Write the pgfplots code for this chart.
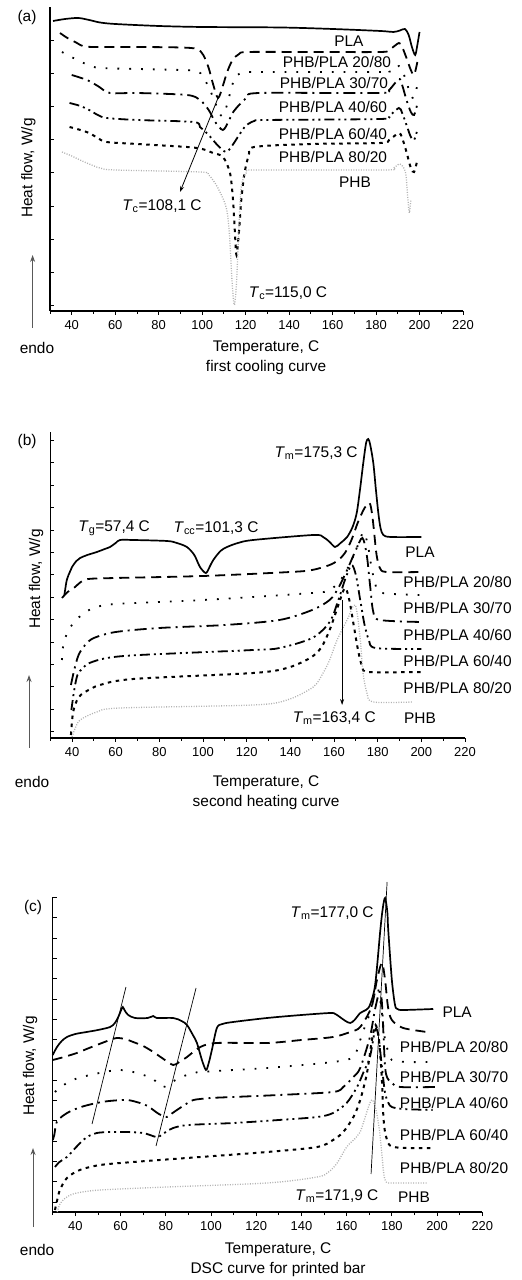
\documentclass[border=0pt]{standalone}
\usepackage{fontspec}
\setmainfont{Liberation Sans}
\usepackage{pgfplots}
\pgfplotsset{compat=1.18}
\usetikzlibrary{arrows.meta}

\newcommand\fs{\fontsize{15.5}{18}\selectfont}
\newcommand\Tsub[1]{\textit{T}\textsubscript{#1}}

\pgfplotsset{
  dscax/.style={
    scale only axis, axis lines*=left, clip=false,
    xmin=30, xmax=220,
    xtick={40,60,...,220}, minor xtick={30,50,...,210},
    xtick align=outside, ytick align=inside,
    major tick length=4bp, minor tick length=3bp,
    yticklabels={},
    axis line style={line width=1.1bp},
    tick style={line width=0.8bp, black},
    xticklabel style={font=\fontsize{13}{15}\selectfont, yshift=-2bp},
    /pgf/number format/assume math mode=true,
    every axis plot/.append style={smooth, tension=0.5},
  },
  pla/.style={black, line width=1.7bp, solid},
  c2080/.style={black, line width=1.8bp, dash pattern=on 10bp off 6bp},
  c3070/.style={black, line width=1.8bp, dash pattern=on 1.8bp off 10bp},
  c4060/.style={black, line width=1.8bp, dash pattern=on 12bp off 5bp on 2bp off 5bp},
  c6040/.style={black, line width=1.8bp, dash pattern=on 10bp off 4bp on 2bp off 4bp on 2bp off 4bp},
  c8020/.style={black, line width=2bp, dash pattern=on 3.5bp off 4.5bp},
  phb/.style={black!30, line width=1.3bp, dash pattern=on 1bp off 1.5bp},
}

\begin{document}
\begin{tikzpicture}[font=\fs]
\useasboundingbox (0,0) rectangle (522bp,1280bp);

% ---------------- (a) first cooling ----------------
\begin{axis}[dscax, at={(50bp,969bp)}, anchor=south west,
  width=413bp, height=304bp, ymin=-311, ymax=-7,
  ytick={-305.7,-272.5,...,-6}]
\addplot[pla] coordinates {(31.4,-21)(37,-19)(43,-18)(48,-20)(53,-22.5)(60,-24)(80,-26)(100,-27)(136,-27.5)(160,-29)(182,-31)(188,-32)(191,-30.5)(193.3,-29)(195,-35)(196.5,-47)(198,-55)(199,-45)(200,-32)};
\addplot[c2080] coordinates {(34.6,-33)(38,-38)(42.4,-43)(45,-46)(50,-47)(70,-47)(90,-47.5)(97.6,-49)(100.5,-55)(103,-68)(105,-84)(107.3,-98)(109.5,-86)(111.5,-72)(114,-60)(117,-54)(121,-52)(150,-52)(182,-52)(186,-50)(190.5,-43)(192,-47)(194,-58)(196,-70)(197.5,-75)(199,-62)};
\addplot[c3070] coordinates {(35.5,-52)(40.7,-58)(47.6,-65)(53,-68)(70,-69)(90,-70)(97.6,-71)(100.5,-77)(104,-92)(107,-108)(109,-116)(111,-108)(113,-92)(115,-78)(118,-73)(125,-72)(182,-72)(186,-71)(190.5,-66)(192,-70)(194,-82)(196,-95)(197.5,-98)(199,-85)};
\addplot[c4060] coordinates {(40,-75)(47,-80)(52,-86)(57.6,-93)(70,-93)(93,-95)(99,-100)(103,-110)(106,-122)(109.5,-130)(112,-122)(114,-113)(117,-105)(121,-97)(126.6,-93)(182,-93)(186,-90)(190.5,-79)(192,-85)(194,-100)(196,-112)(197.5,-115)(199,-104)};
\addplot[c6040] coordinates {(39,-103)(44,-106)(48,-110)(52,-115)(56,-118)(70,-120)(96,-122)(99,-127)(103,-135)(107,-145)(111,-152)(114,-145)(117,-135)(120,-126)(124,-121)(130,-120)(182,-119)(186,-116)(190.5,-108)(192,-113)(194,-125)(196,-137)(197.5,-140)(199,-130)};
\addplot[c8020] coordinates {(39,-127)(44,-130)(48,-133)(52,-138)(56,-142)(70,-144)(93,-147)(100,-149)(105,-153)(109.6,-157)(112.8,-173)(114.2,-200)(115,-230)(115.8,-255)(117,-230)(118,-200)(119.5,-173)(121.5,-155)(124,-147)(150,-144)(182,-143)(186,-140)(190.5,-133)(192,-138)(194,-152)(196,-168)(197.5,-172)(199,-160)};
\addplot[phb] coordinates {(35.5,-152)(40,-156)(43.8,-160)(48,-164)(53,-168)(60,-170)(99,-172)(103,-175)(107,-187)(111,-207)(112.5,-233)(113.8,-283)(114.8,-305)(115.8,-283)(116.8,-233)(118,-187)(120.6,-172)(125,-170)(184,-170)(188,-168)(191,-164)(193.5,-172)(194.5,-195)(195.3,-213)(196,-200)};
\draw[-{Stealth[length=6bp,width=4bp]}, line width=0.8bp] (107.3,-98) -- (89.8,-192);
\node at (81.5,-206) {\Tsub{c}=108,1 C};
\node at (139.5,-293) {\Tsub{c}=115,0 C};
\node at (167.5,-41) {PLA};
\node at (162,-62) {PHB/PLA 20/80};
\node at (160.6,-83) {PHB/PLA 30/70};
\node at (160.2,-107) {PHB/PLA 40/60};
\node at (160.2,-134) {PHB/PLA 60/40};
\node at (160.2,-157) {PHB/PLA 80/20};
\node at (170.3,-182) {PHB};
\node at (19.4,-18) {(a)};
\node[rotate=90] at (20.1,-168) {Heat flow, W/g};
\draw[-{Stealth[length=7bp,width=5bp]}, black!65, line width=1bp] (22,-328) -- (22,-255);
\node at (24,-348) {endo};
\node at (129.4,-348) {Temperature, C};
\node at (129.4,-368) {first cooling curve};
\end{axis}

% ---------------- (b) second heating ----------------
\begin{axis}[dscax, at={(50.2bp,542bp)}, anchor=south west,
  width=414.8bp, height=306bp, ymin=-738, ymax=-432,
  ytick={-731.7,-709.3,...,-432}]
\addplot[pla] coordinates {(36.5,-595)(37.6,-580)(39,-572)(40,-567)(42,-561)(43.7,-558)(47,-555)(51.4,-552)(55,-549)(57.4,-547)(60,-543)(62,-540)(68,-540)(83.5,-541)(88,-543)(92.6,-547)(96,-555)(98.6,-567)(101.3,-573)(103,-567)(104.7,-560)(108,-551)(111,-547)(116,-543)(123,-540)(150.5,-535)(155,-537)(158,-542)(160.5,-547)(163,-543)(166,-537)(168.5,-527)(170.4,-513)(172,-488)(173.4,-463)(174.7,-443)(175.7,-439)(176.6,-445)(178,-463)(179.2,-490)(180.3,-513)(181.3,-528)(182.6,-535)(186,-537)(200,-537)};
\addplot[c2080] coordinates {(35.4,-598)(38,-592)(41.4,-587)(44,-582)(47.4,-579)(60,-578)(100,-576)(140,-572)(150,-570)(158,-565)(162,-560)(165,-553)(168,-540)(171,-522)(174,-508)(176.3,-503)(177.5,-515)(178.5,-535)(179.5,-555)(181,-568)(184,-572)(200,-572)};
\addplot[c3070] coordinates {(35.4,-660)(36,-645)(38,-632)(41,-622)(45,-614)(50,-608)(60,-604)(100,-600)(150,-593)(158,-590)(163,-580)(167,-565)(171,-545)(173.5,-532)(175.5,-545)(177,-565)(179,-585)(182,-593)(200,-595)};
\addplot[c4060] coordinates {(39.5,-685)(41,-670)(43,-655)(46,-645)(50,-638)(60,-632)(80,-628)(110,-625)(135,-620)(150,-610)(158,-600)(162,-588)(166,-570)(170,-550)(173,-538)(175,-555)(176.5,-585)(178,-612)(181,-620)(200,-622)};
\addplot[c6040] coordinates {(39.7,-710)(41,-690)(42.5,-675)(45,-668)(48,-663)(56,-658)(71,-655)(123,-650)(135,-648)(150,-638)(158,-622)(162,-600)(165,-580)(168,-565)(170,-575)(172,-600)(174,-625)(176,-640)(179,-648)(200,-649)};
\addplot[c8020] coordinates {(39.5,-735)(40.5,-712)(42.8,-698)(46,-692)(52.8,-685)(68,-679)(123,-673)(138.5,-668)(149,-658)(154,-648)(158,-630)(162,-605)(165,-588)(167,-600)(169,-625)(171,-650)(173,-667)(176,-672)(200,-672)};
\addplot[phb] coordinates {(40,-737)(41.5,-728)(43.7,-720)(51.3,-712)(62,-708)(123,-705)(138.5,-700)(150.5,-687)(155,-673)(158,-660)(161.4,-640)(166,-620)(169.7,-605)(171.9,-637)(173.3,-673)(175.1,-693)(177.9,-702)(196,-702)};
\draw[-{Stealth[length=6bp,width=4bp]}, line width=0.8bp] (163.7,-600) -- (163.7,-705);
\node at (59.3,-528) {\Tsub{g}=57,4 C};
\node at (106,-528) {\Tsub{cc}=101,3 C};
\node at (151.8,-453) {\Tsub{m}=175,3 C};
\node at (160.1,-718) {\Tsub{m}=163,4 C};
\node at (199.4,-552) {PLA};
\node at (216.6,-582) {PHB/PLA 20/80};
\node at (216.6,-608) {PHB/PLA 30/70};
\node at (216.6,-635) {PHB/PLA 40/60};
\node at (216.6,-661) {PHB/PLA 60/40};
\node at (216.6,-688) {PHB/PLA 80/20};
\node at (199.4,-718) {PHB};
\node at (19.4,-442) {(b)};
\node[rotate=90] at (23.5,-579) {Heat flow, W/g};
\draw[-{Stealth[length=7bp,width=5bp]}, black!65, line width=1bp] (20.3,-748) -- (20.3,-675);
\node at (21.7,-782) {endo};
\node at (128.9,-783) {Temperature, C};
\node at (128.9,-803) {second heating curve};
\end{axis}

% ---------------- (c) printed bar ----------------
\begin{axis}[dscax, at={(52.7bp,68bp)}, anchor=south west,
  width=429.6bp, height=315bp, ymin=-1212, ymax=-897,
  ytick={-1202,-1181.7,...,-897}]
\addplot[pla] coordinates {(30,-1055)(31.9,-1047)(34,-1041)(36.3,-1037)(40,-1034)(45,-1032)(50,-1030)(55.4,-1027)(57.5,-1023)(59,-1017)(60.3,-1010)(61,-1007)(62,-1011)(63.4,-1015)(66.4,-1018)(72,-1018)(74.5,-1016)(76,-1018)(83.3,-1018)(87,-1021)(89.4,-1025)(92,-1035)(93.8,-1043)(96,-1060)(97.8,-1070)(99,-1063)(100.4,-1050)(102.6,-1028)(105,-1024)(109.8,-1022)(124.8,-1018)(140,-1015)(152.7,-1013)(155,-1014)(157,-1017)(159.5,-1021)(161.6,-1023)(163.5,-1020)(166,-1013)(168.5,-1010)(170.3,-1005)(172.6,-985)(174.9,-930)(176,-908)(177,-898)(178,-912)(178.4,-930)(180,-980)(181.4,-1005)(182.5,-1009)(185,-1010)(198.3,-1009)};
\addplot[c2080] coordinates {(30,-1060)(35,-1057)(40.7,-1053)(45,-1049)(49.5,-1045)(55.3,-1040)(58.3,-1038)(62,-1039)(65.6,-1042)(70,-1046)(74.5,-1052)(79,-1059)(83.3,-1065)(86,-1062)(89.4,-1057)(95.3,-1047)(102.6,-1043)(124.8,-1043)(140,-1040)(154,-1037)(161.6,-1032)(166,-1027)(171,-1007)(173.4,-980)(175.6,-963)(177,-980)(178.3,-1007)(180,-1020)(185,-1028)(195.6,-1032)};
\addplot[c3070] coordinates {(31,-1092)(33,-1088)(36.3,-1083)(40,-1079)(46.5,-1075)(55.3,-1071)(60,-1070)(65.6,-1072)(70,-1075)(73,-1077)(76,-1082)(78.9,-1087)(82,-1083)(86,-1078)(89.4,-1075)(95.3,-1072)(124.8,-1068)(154,-1062)(162.9,-1057)(166,-1040)(168,-1027)(170.3,-1013)(172,-997)(173.4,-987)(174.5,-995)(175.6,-1013)(177,-1040)(178.5,-1052)(180,-1060)(186.7,-1062)(197,-1062)};
\addplot[c4060] coordinates {(30,-1140)(30.7,-1135)(31.8,-1122)(35,-1115)(39,-1110)(44,-1106)(49.5,-1103)(55,-1101)(62.9,-1100)(68.6,-1103)(72,-1106)(74.5,-1110)(77,-1114)(80.5,-1117)(83,-1113)(86.3,-1108)(89,-1104)(92.2,-1100)(100,-1098)(109.8,-1097)(130,-1095)(154,-1092)(158.5,-1087)(163,-1077)(166,-1068)(170.3,-1037)(172.5,-1010)(174.5,-992)(175.5,-1000)(176.2,-1030)(177,-1067)(178,-1078)(180,-1083)(183.7,-1087)(199,-1087)};
\addplot[c6040] coordinates {(31,-1167)(33,-1162)(36.3,-1157)(40,-1148)(43.5,-1140)(46,-1136)(49.5,-1133)(55,-1132)(62.9,-1132)(70,-1133)(73,-1135)(76.5,-1137)(80,-1132)(83.3,-1128)(90,-1125)(110,-1123)(130,-1120)(147,-1117)(154,-1113)(160,-1103)(164.6,-1087)(167.5,-1072)(170.3,-1057)(172.6,-1030)(174,-1035)(175.6,-1067)(177,-1093)(178.5,-1103)(180,-1107)(185,-1109)(198,-1110)};
\addplot[c8020] coordinates {(31,-1210)(32,-1200)(33.2,-1190)(36.3,-1178)(42,-1170)(51,-1165)(65.6,-1162)(95.3,-1157)(124.8,-1152)(147,-1147)(154,-1140)(158.5,-1132)(163,-1117)(166,-1100)(169,-1073)(171.2,-1040)(172.8,-1025)(174.3,-1040)(175.6,-1080)(176.3,-1118)(177.5,-1137)(180.7,-1147)(198,-1148)};
\addplot[phb] coordinates {(32,-1212)(33,-1205)(34.6,-1200)(37,-1196)(40.7,-1193)(51,-1190)(80.5,-1187)(124.8,-1183)(147,-1177)(152,-1172)(155.8,-1163)(160,-1147)(164,-1138)(166,-1132)(168.5,-1115)(170.3,-1103)(171.5,-1100)(173,-1110)(174.5,-1130)(175.6,-1155)(176.5,-1175)(177.5,-1182)(180,-1183)(196,-1183)};
\draw[line width=0.7bp] (62.4,-987) -- (47.4,-1124);
\draw[line width=0.7bp] (93.4,-988) -- (75.7,-1146);
\draw[line width=0.7bp] (177.9,-882) -- (170.8,-1174);
\node at (153.6,-913) {\Tsub{m}=177,0 C};
\node at (155.7,-1196) {\Tsub{m}=171,9 C};
\node at (208.9,-1012) {PLA};
\node at (207.5,-1047) {PHB/PLA 20/80};
\node at (207.5,-1077) {PHB/PLA 30/70};
\node at (207.5,-1103) {PHB/PLA 40/60};
\node at (207.5,-1135) {PHB/PLA 60/40};
\node at (207.5,-1168) {PHB/PLA 80/20};
\node at (189.8,-1197) {PHB};
\node at (21.3,-908) {(c)};
\node[rotate=90] at (20,-1066) {Heat flow, W/g};
\draw[-{Stealth[length=7bp,width=5bp]}, black!65, line width=1bp] (21.3,-1227) -- (21.3,-1148);
\node at (23.1,-1250) {endo};
\node at (129.7,-1250) {Temperature, C};
\node at (129.7,-1270) {DSC curve for printed bar};
\end{axis}
\end{tikzpicture}
\end{document}
